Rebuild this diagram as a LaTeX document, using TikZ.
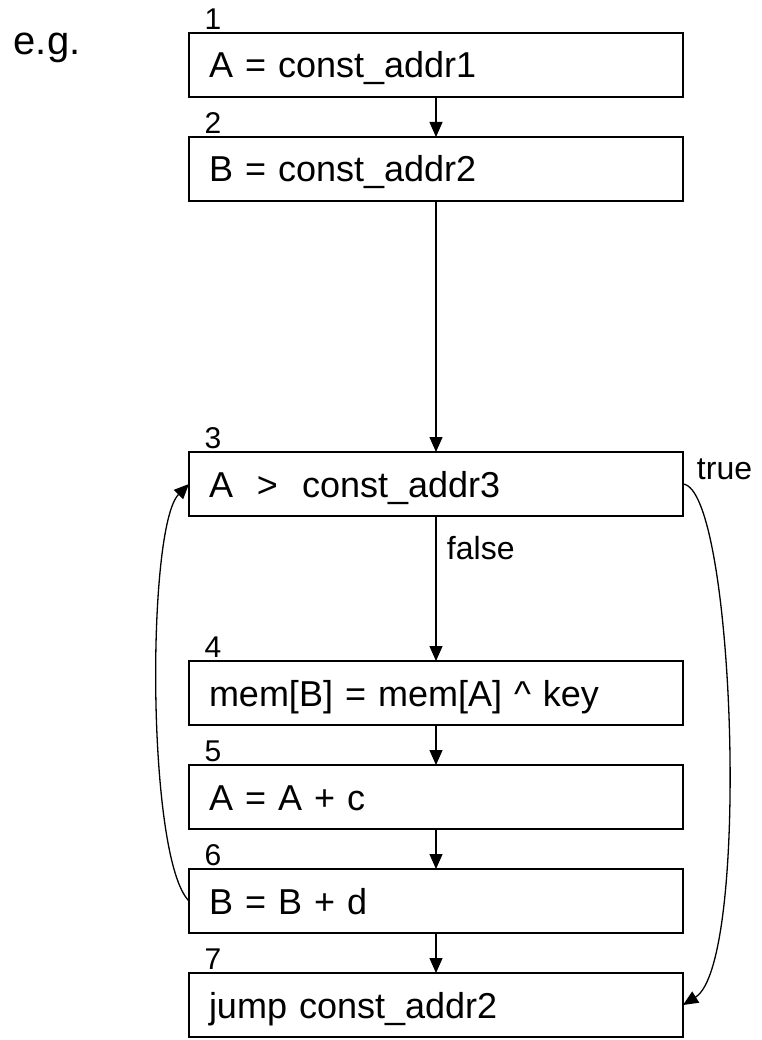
\documentclass[tikz,border=0pt]{standalone}
\usepackage{fontspec}
\setmainfont{Liberation Sans}
\usetikzlibrary{positioning, arrows.meta}

\begin{document}
\begin{tikzpicture}[x=1pt, y=1pt, ->, >={Triangle[length=15pt,width=13pt]}, line width=1.3pt, auto, node distance=40pt,
        box/.style={draw, line width=1.6pt, outer sep=0pt, inner xsep=20pt, inner ysep=0pt, text width=454pt, align=left,
            minimum height=64pt, text height=26pt, text depth=0pt, font=\fontsize{36}{40}\selectfont},
        num/.style={inner sep=0pt, font=\fontsize{30}{33}\selectfont},
        lbl/.style={font=\fontsize{32}{36}\selectfont}]
    \useasboundingbox (0,0) rectangle (761,-1040);
    \node[anchor=base west, inner sep=0pt, font=\fontsize{40}{44}\selectfont] (eg) at (13,-55) {e.g.};

    \node[box] (1) at (436,-65) {A = const\_addr1};
    \node[box] (2) [below=of 1] {B = const\_addr2};
    \node[box] (3) [below=251pt of 2] {A\ \ >\ \ const\_addr3};
    \node[box] (4) [below=145pt of 3] {mem[B] = mem[A] \textasciicircum{} key};
    \node[box] (5) [below=of 4] {A = A + c};
    \node[box] (6) [below=of 5] {B = B + d};
    \node[box] (7) [below=of 6] {jump const\_addr2};

    \node[num] (n1) [above right=3pt and 15pt of 1.north west] {1};
    \node[num] (n2) [above right=3pt and 15pt of 2.north west] {2};
    \node[num] (n3) [above right=3pt and 15pt of 3.north west] {3};
    \node[num] (n4) [above right=3pt and 15pt of 4.north west] {4};
    \node[num] (n5) [above right=3pt and 15pt of 5.north west] {5};
    \node[num] (n6) [above right=3pt and 15pt of 6.north west] {6};
    \node[num] (n7) [above right=3pt and 15pt of 7.north west] {7};

    \path
    (1) edge (2)
    (2) edge (3)
    (3) edge node[lbl, pos=0.22, xshift=7pt] {false} (4)
    (4) edge (5)
    (5) edge (6)
    (6) edge (7)
    (3.east) edge [out=-5, in=32, out distance=52pt, in distance=80pt]
        node[lbl, auto=false, pos=0, anchor=south west, xshift=10pt] {true} (7.east)
    (6.west) edge [bend left=45, looseness=0.37] (3.west)
    ;
\end{tikzpicture}
\end{document}
